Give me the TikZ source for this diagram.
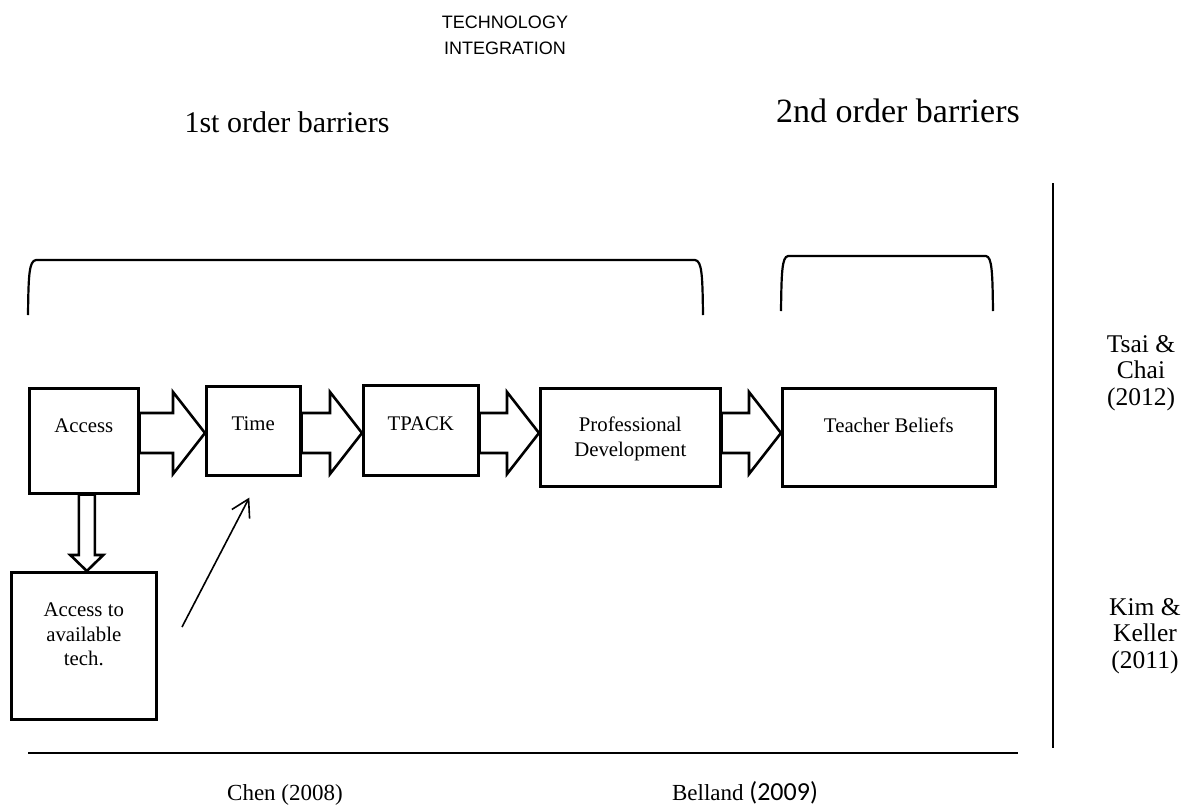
\documentclass[tikz,border=0pt]{standalone}
\usepackage{fontspec}
\setmainfont{Liberation Serif}
\newfontfamily\arialfont{Liberation Sans}
\newfontfamily\calibrifont{Carlito}
\usetikzlibrary{positioning}
\usetikzlibrary{calc}
\usetikzlibrary{arrows.meta}
\tikzset{
  barrier-box/.style={draw, line width=2.6pt, anchor=north west, inner sep=0pt},
  box-text/.style={inner sep=0pt, align=center, font=\fontsize{20.8}{24.5}\selectfont},
  hollow/.style={draw, line width=2.6pt, line join=miter},
  bracket/.style={line width=2.2pt},
  rule/.style={line width=2.2pt},
  source/.style={inner sep=0pt, align=center, font=\fontsize{25.5}{26.5}\selectfont},
  cite/.style={inner sep=0pt, anchor=base, font=\fontsize{23}{26}\selectfont},
  order/.style={inner sep=0pt, anchor=base, font=\fontsize{30}{34}\selectfont},
}
% block arrow from one box to the next, along the flow line
\newcommand{\blockarrow}[2]{%
\draw[hollow] ($(#1.east |- flow)+(0,-20)$) -- ($(#2.west |- flow)+(-32,-20)$) -- ++(0,-21)
  -- (#2.west |- flow) -- ++(-32,41) -- ++(0,-21) -- ($(#1.east |- flow)+(0,20)$) -- cycle;
}

\begin{document}
\begin{tikzpicture}[x=1pt, y=-1pt]
\useasboundingbox (0,0) rectangle (1195,807);
\coordinate (flow) at (0,433);
% titles
\node[inner sep=0pt, align=center, font=\arialfont\fontsize{18}{26}\selectfont] (title) at (505,35) {TECHNOLOGY\\INTEGRATION};
\node[order] (first-order) at (287,132) {1st order barriers};
\node[order, font=\fontsize{34}{38}\selectfont] (second-order) at (898,122) {2nd order barriers};
% brackets
\draw[bracket] (28,315) .. controls (28.5,275) and (29,261) .. (36,260) -- (695,260) .. controls (702,261) and (702.5,275) .. (703,315);
\draw[bracket] (781,311) .. controls (781.5,272) and (782,257) .. (788,256) -- (986,256) .. controls (992,257) and (992.5,272) .. (993,311);
% boxes
\node[barrier-box, minimum width=109pt, minimum height=105pt] (access) at (28,387) {};
\node[barrier-box, minimum width=94pt, minimum height=89pt] (time) at (205,385) {};
\node[barrier-box, minimum width=115pt, minimum height=90pt] (tpack) at (362,384) {};
\node[barrier-box, minimum width=180pt, minimum height=98pt] (profdev) at (539,387) {};
\node[barrier-box, minimum width=213pt, minimum height=98pt] (beliefs) at (781,387) {};
\node[barrier-box, minimum width=145pt, minimum height=147pt] (availtech) at (10,571) {};
\node[box-text, below=32pt of access.north] (access-text) {Access};
\node[box-text, below=32pt of time.north] (time-text) {Time};
\node[box-text, below=33pt of tpack.north] (tpack-text) {TPACK};
\node[box-text, below=30pt of profdev.north] (profdev-text) {Professional\\Development};
\node[box-text, below=31pt of beliefs.north] (beliefs-text) {Teacher Beliefs};
\node[box-text, below=32pt of availtech.north] (availtech-text) {Access to\\available\\tech.};
% arrows
\foreach \from/\to in {access/time, time/tpack, tpack/profdev, profdev/beliefs} {
  \blockarrow{\from}{\to}
}
\draw[hollow] ($(access.south)+(-5,0)$) -- ($(availtech.north)+(-5,-16)$) -- ++(-8.5,0)
  -- ($(availtech.north)+(3,0)$) -- ++(16.5,-16) -- ++(-8.5,0) -- ($(access.south)+(11,0)$) -- cycle;
\coordinate (rise) at (182,627);
\draw[line width=1.6pt, -{Straight Barb[length=17pt, width=20pt]}] (rise) -- ([xshift=-4pt, yshift=-21pt]time.south);
% rules
\draw[rule] (28,753) -- (1018,753);
\draw[rule] (1053,183) -- (1053,748);
% sources
\node[source, anchor=north] (tsai) at (1141,335) {Tsai \&\\Chai\\(2012)};
\node[source, anchor=north] (kim) at (1145,598) {Kim \&\\Keller\\(2011)};
\node[cite] (chen) at (285,800) {Chen (2008)};
\node[cite] (belland) at (745,800) {Belland {\calibrifont\fontsize{26}{30}\selectfont(2009)}};
\end{tikzpicture}
\end{document}
